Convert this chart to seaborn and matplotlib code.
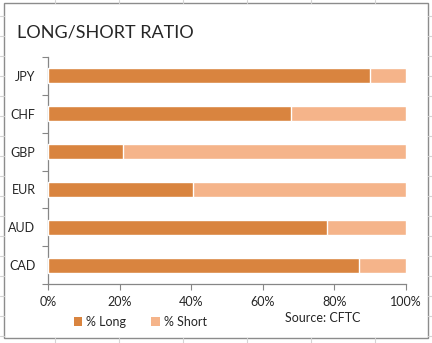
import matplotlib
matplotlib.use("Agg")
import matplotlib.pyplot as plt
from matplotlib.patches import Patch, Rectangle
from matplotlib.lines import Line2D
import numpy as np
import pandas as pd
import seaborn as sns

currencies = ["JPY", "CHF", "GBP", "EUR", "AUD", "CAD"]
pct_long = [90, 68, 21, 40.5, 78, 87]
pct_short = [10, 32, 79, 59.5, 22, 13]
x_ticks = [0, 20, 40, 60, 80, 100]
x_tick_labels = ["0%", "20%", "40%", "60%", "80%", "100%"]
series_names = ["% Long", "% Short"]

long_color = "#D9843F"
short_color = "#F5B48A"
axis_color = "#868686"
text_color = "#262626"

sns.set_theme(style="white")
plt.rcParams["font.family"] = ["Lato", "DejaVu Sans"]

W, H, DPI = 432, 343, 100
fig = plt.figure(figsize=(W / DPI, H / DPI), dpi=DPI)
fig.patch.set_facecolor("white")

# worksheet cell lines around the chart object
for gx in [55, 119, 183, 247, 311, 375]:
    fig.add_artist(Line2D([gx / W, gx / W], [1 - 0 / H, 1 - 3 / H],
                          color="#d4d4d4", lw=0.8, transform=fig.transFigure))
    fig.add_artist(Line2D([gx / W, gx / W], [1 - 338 / H, 1 - 343 / H],
                          color="#d4d4d4", lw=0.8, transform=fig.transFigure))
for gy in range(16, 343, 20):
    fig.add_artist(Line2D([0, 4 / W], [1 - gy / H, 1 - gy / H],
                          color="#d4d4d4", lw=0.8, transform=fig.transFigure))
    fig.add_artist(Line2D([428 / W, 1], [1 - gy / H, 1 - gy / H],
                          color="#d4d4d4", lw=0.8, transform=fig.transFigure))

# chart frame
fig.add_artist(Rectangle((4 / W, 1 - 338 / H), 424 / W, 335 / H,
                         transform=fig.transFigure, fill=True,
                         facecolor="white", edgecolor="#8c8c8c", lw=1.0,
                         zorder=0))

ax = fig.add_axes([48 / W, 1 - 284 / H, 358 / W, 227 / H])
ax.set_facecolor("none")

df = pd.DataFrame({"currency": currencies, "long": pct_long, "short": pct_short})
df["total"] = df["long"] + df["short"]

sns.barplot(data=df, y="currency", x="total", orient="h", color=short_color,
            width=0.4, saturation=1, ax=ax, zorder=2)
sns.barplot(data=df, y="currency", x="long", orient="h", color=long_color,
            width=0.4, saturation=1, ax=ax, zorder=3)

ax.set_xlim(0, 100)
ax.set_ylim(len(currencies) - 0.5, -0.5)
ax.set_xlabel("")
ax.set_ylabel("")
ax.set_xticks(x_ticks)
ax.set_xticklabels(x_tick_labels)

for side in ["top", "right"]:
    ax.spines[side].set_visible(False)
for side in ["left", "bottom"]:
    ax.spines[side].set_color(axis_color)
    ax.spines[side].set_linewidth(0.9)

ax.tick_params(axis="x", which="major", direction="out", length=4, width=0.8,
               color=axis_color, labelsize=9, labelcolor=text_color, pad=5,
               bottom=True)
ax.set_yticks(np.arange(len(currencies) + 1) - 0.5, minor=True)
ax.tick_params(axis="y", which="minor", direction="out", length=4, width=0.8,
               color=axis_color, left=True)
ax.tick_params(axis="y", which="major", length=0, labelsize=9,
               labelcolor=text_color, pad=9)

fig.text(17 / W, 1 - 33 / H, "LONG/SHORT RATIO", fontsize=13,
         color=text_color, va="center", ha="left")

handles = [Patch(facecolor=long_color, edgecolor="none"),
           Patch(facecolor=short_color, edgecolor="none")]
fig.legend(handles, series_names, loc="center", bbox_to_anchor=(140 / W, 1 - 322 / H),
           ncol=2, frameon=False, fontsize=9, handlelength=0.7, handleheight=0.7,
           handletextpad=0.3, columnspacing=2.0, labelcolor=text_color)

fig.text(323 / W, 1 - 318 / H, "Source: CFTC", fontsize=9, color=text_color,
         ha="center", va="center")

fig.savefig("out.png", dpi=DPI, facecolor="white")
